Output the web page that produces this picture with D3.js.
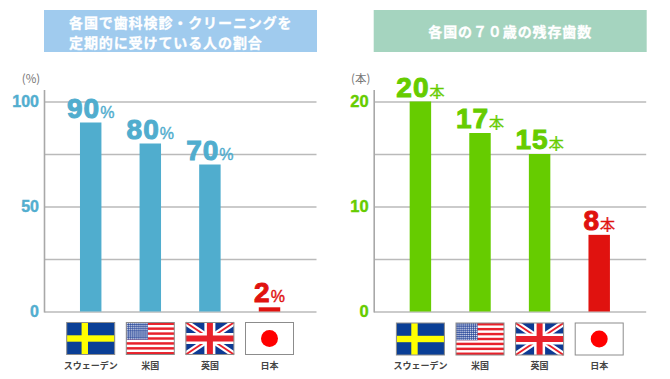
<!DOCTYPE html>
<html>
<head>
<meta charset="utf-8">
<script src="https://cdn.jsdelivr.net/npm/d3@7"></script>
<style>
  html, body { margin: 0; padding: 0; background: #fff; }
  svg { display: block; }
  text { font-family: "Noto Sans CJK JP", sans-serif; }
  .num { font-family: "Liberation Sans", sans-serif; font-weight: bold; }
</style>
</head>
<body>
<div id="canvas"></div>
<script>
"use strict";

/* Data */
let countries = ["スウェーデン", "米国", "英国", "日本"];
let flagKeys = ["se", "us", "uk", "jp"];

let checkupValues = [90, 80, 70, 2];
let checkupLabels = ["90", "80", "70", "2"];
let checkupGrid = [0, 25, 50, 75, 100];
let checkupTicks = [0, 50, 100];
let checkupTitle = ["各国で歯科検診・クリーニングを", "定期的に受けている人の割合"];

let teethValues = [20, 17, 15, 7.3];
let teethLabels = ["20", "17", "15", "8"];
let teethGrid = [0, 5, 10, 15, 20];
let teethTicks = [0, 10, 20];
let teethTitle = ["各国の７０歳の残存歯数"];

/* Drawing config */
let svgWidth = 670;
let svgHeight = 379;
let red = "#e0120f";
let gridColor = "#bababa";

let svg = d3.select("#canvas")
  .append("svg")
  .attr("width", svgWidth)
  .attr("height", svgHeight);

function drawFlag(g, key, w, h) {
  if (key === "se") {
    g.append("rect").attr("width", w).attr("height", h).attr("fill", "#0a3f96");
    g.append("rect").attr("x", w * 0.31).attr("width", h * 0.2).attr("height", h).attr("fill", "#ffff00");
    g.append("rect").attr("y", h * 0.4).attr("width", w).attr("height", h * 0.2).attr("fill", "#ffff00");
  }
  if (key === "us") {
    g.append("rect").attr("width", w).attr("height", h).attr("fill", "#fff");
    for (let i = 0; i < 13; i = i + 2) {
      g.append("rect")
        .attr("y", i * h / 13)
        .attr("width", w)
        .attr("height", h / 13)
        .attr("fill", "#e8212b");
    }
    g.append("rect").attr("width", w * 0.45).attr("height", h * 7 / 13).attr("fill", "#2f4d9c");
    for (let r = 0; r < 9; r = r + 1) {
      for (let c = 0; c < 11; c = c + 1) {
        g.append("circle")
          .attr("cx", (c + 0.5) * w * 0.45 / 11)
          .attr("cy", (r + 0.5) * (h * 7 / 13) / 9)
          .attr("r", 0.7)
          .attr("fill", "#dfe4f2");
      }
    }
  }
  if (key === "uk") {
    g.append("rect").attr("width", w).attr("height", h).attr("fill", "#0d3a94");
    let diagonals = [[0, 0, w, h], [0, h, w, 0]];
    diagonals.forEach(d => {
      g.append("line")
        .attr("x1", d[0]).attr("y1", d[1]).attr("x2", d[2]).attr("y2", d[3])
        .attr("stroke", "#fff").attr("stroke-width", 6);
      g.append("line")
        .attr("x1", d[0]).attr("y1", d[1]).attr("x2", d[2]).attr("y2", d[3])
        .attr("stroke", "#e8212b").attr("stroke-width", 2);
    });
    g.append("rect").attr("x", w / 2 - 5.5).attr("width", 11).attr("height", h).attr("fill", "#fff");
    g.append("rect").attr("y", h / 2 - 5.5).attr("width", w).attr("height", 11).attr("fill", "#fff");
    g.append("rect").attr("x", w / 2 - 3).attr("width", 6).attr("height", h).attr("fill", "#e8212b");
    g.append("rect").attr("y", h / 2 - 3).attr("width", w).attr("height", 6).attr("fill", "#e8212b");
  }
  if (key === "jp") {
    g.append("rect").attr("width", w).attr("height", h).attr("fill", "#fff");
    g.append("circle").attr("cx", w / 2).attr("cy", h / 2).attr("r", 8.5).attr("fill", "#ff0000");
  }
  g.append("rect")
    .attr("width", w)
    .attr("height", h)
    .attr("fill", "none")
    .attr("stroke", "#8c8c8c")
    .attr("stroke-width", 1);
}

function drawPanel(p) {
  let panel = svg.append("g").attr("transform", `translate(${p.dx},0)`);

  /* Title box */
  panel.append("rect")
    .attr("x", 44).attr("y", 10)
    .attr("width", 273).attr("height", 42)
    .attr("fill", p.titleFill);

  p.title.forEach((line, i) => {
    let t = panel.append("text")
      .attr("y", p.titleY + i * 20)
      .attr("fill", "#fff")
      .attr("stroke", "#fff")
      .attr("stroke-width", 0.3)
      .attr("font-size", "14px")
      .attr("font-weight", "bold")
      .attr("letter-spacing", "0.9px")
      .text(line);
    if (p.title.length > 1) {
      t.attr("x", 69);
    } else {
      t.attr("x", 180.5).attr("text-anchor", "middle");
    }
  });

  /* Scales */
  let xScale = d3.scaleBand()
    .domain(countries)
    .range([60.9, 299.3])
    .paddingInner(0.64)
    .paddingOuter(0.32);

  let yScale = d3.scaleLinear()
    .domain([0, p.max])
    .range([311.5, 101.5]);

  /* Gridlines and tick numbers */
  let axis = d3.axisLeft(yScale)
    .tickValues(p.grid)
    .tickSize(-272)
    .tickPadding(5)
    .tickFormat(d => p.ticks.includes(d) ? String(d) : "");

  let axisG = panel.append("g")
    .attr("transform", "translate(44.5,0)")
    .call(axis);

  axisG.select(".domain").remove();
  axisG.selectAll(".tick line")
    .attr("stroke", gridColor)
    .attr("stroke-width", 1.5);
  axisG.selectAll(".tick text")
    .attr("class", "num")
    .attr("x", -5.5)
    .attr("fill", p.tickColor)
    .attr("stroke", p.tickColor)
    .attr("stroke-width", 0.4)
    .attr("font-size", p.tickSize);

  panel.append("line")
    .attr("x1", 44.5).attr("x2", 44.5)
    .attr("y1", 90).attr("y2", 312.5)
    .attr("stroke", "#a8a8a8")
    .attr("stroke-width", 1.6);

  /* Unit */
  panel.append("text")
    .attr("x", 31).attr("y", 83)
    .attr("text-anchor", "middle")
    .attr("fill", "#777")
    .attr("font-size", "11.5px")
    .text(p.unitLabel);

  /* Bars */
  panel.selectAll("rect.bar")
    .data(p.values)
    .enter()
    .append("rect")
    .attr("class", "bar")
    .attr("x", (d, i) => xScale(countries[i]))
    .attr("y", d => yScale(d))
    .attr("width", xScale.bandwidth())
    .attr("height", d => yScale(0) - yScale(d))
    .attr("fill", (d, i) => i === 3 ? red : p.barColor);

  /* Value labels */
  p.values.forEach((d, i) => {
    let color = i === 3 ? red : p.barColor;
    let label = panel.append("text")
      .attr("x", xScale(countries[i]) + xScale.bandwidth() / 2)
      .attr("y", yScale(d) - 5)
      .attr("text-anchor", "middle")
      .attr("fill", color);
    label.append("tspan")
      .attr("class", "num")
      .attr("font-size", "28px")
      .attr("letter-spacing", "1px")
      .attr("stroke", color)
      .attr("stroke-width", 1)
      .text(p.labels[i]);
    label.append("tspan")
      .attr("font-family", p.suffixFont)
      .attr("font-size", p.suffixSize)
      .attr("stroke", color)
      .attr("stroke-width", 0.4)
      .text(p.suffix);
  });

  /* Flags and country names */
  let flagW = 48;
  let flagH = 32;
  countries.forEach((name, i) => {
    let cx = xScale(name) + xScale.bandwidth() / 2;
    let flag = panel.append("g")
      .attr("transform", `translate(${cx - flagW / 2},${p.flagY})`);
    drawFlag(flag, flagKeys[i], flagW, flagH);
    panel.append("text")
      .attr("x", cx)
      .attr("y", 368.5)
      .attr("text-anchor", "middle")
      .attr("fill", "#444")
      .attr("font-size", "9px")
      .attr("font-weight", "bold")
      .text(name);
  });
}

drawPanel({
  dx: 0,
  title: checkupTitle,
  titleY: 28,
  titleFill: "#a0cbee",
  values: checkupValues,
  labels: checkupLabels,
  max: 100,
  grid: checkupGrid,
  ticks: checkupTicks,
  tickColor: "#52aecf",
  tickSize: "16px",
  barColor: "#50adce",
  unitLabel: "(%)",
  suffix: "%",
  suffixFont: "Liberation Sans",
  suffixSize: "16px",
  flagY: 322.5
});

drawPanel({
  dx: 329.7,
  title: teethTitle,
  titleY: 37,
  titleFill: "#a5d4bf",
  values: teethValues,
  labels: teethLabels,
  max: 20,
  grid: teethGrid,
  ticks: teethTicks,
  tickColor: "#66cc00",
  tickSize: "16.5px",
  barColor: "#66cc00",
  unitLabel: "(本)",
  suffix: "本",
  suffixFont: "Noto Sans CJK JP",
  suffixSize: "15px",
  flagY: 323
});
</script>
</body>
</html>
